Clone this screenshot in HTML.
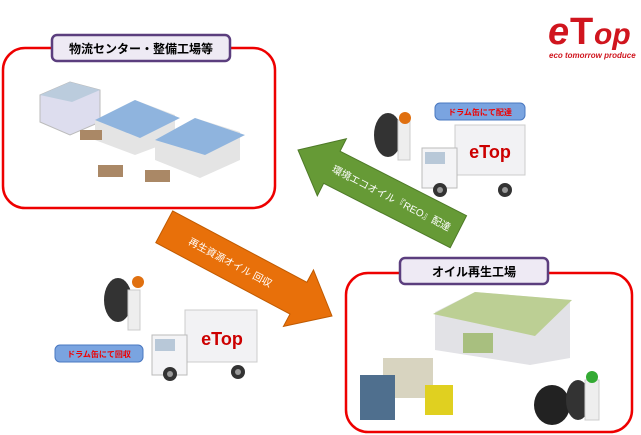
<!DOCTYPE html>
<html><head><meta charset="utf-8"><style>
html,body{margin:0;padding:0;background:#fff;width:641px;height:435px;overflow:hidden}
svg text{font-family:"Liberation Sans","Noto Sans CJK JP",sans-serif}
</style></head><body>
<svg width="641" height="435" viewBox="0 0 641 435" xmlns="http://www.w3.org/2000/svg">
<text x="548" y="44" font-size="38" font-weight="bold" font-style="italic" fill="#d0151e">e</text>
<text x="570" y="44" font-size="38" font-weight="bold" fill="#d0151e">T</text>
<text x="594" y="44" font-size="30" font-weight="bold" font-style="italic" fill="#d0151e">op</text>
<text x="549" y="58" font-size="8" font-weight="bold" font-style="italic" fill="#d0151e">eco tomorrow produce</text>

<rect x="3" y="48" width="272" height="160" rx="22" fill="#fff" stroke="#e00" stroke-width="2.5"/>
<rect x="52" y="35" width="178" height="26" rx="5" fill="#eeeaf4" stroke="#5b3e7e" stroke-width="2.5"/>
<text x="141" y="53" font-size="12" font-weight="bold" text-anchor="middle" fill="#000">物流センター・整備工場等</text>
<polygon points="40,95 70,82 100,90 100,122 70,135 40,122" fill="#dde" stroke="#bbb"/>
<polygon points="40,95 70,82 100,90 72,102" fill="#bcd"/>
<polygon points="95,120 135,100 175,115 175,140 135,155 95,140" fill="#e4e4e4"/>
<polygon points="95,120 135,100 180,118 140,138" fill="#8fb4de"/>
<polygon points="155,140 195,118 240,132 240,160 200,178 155,160" fill="#e4e4e4"/>
<polygon points="155,140 195,118 245,135 205,155" fill="#8fb4de"/>
<rect x="80" y="130" width="22" height="10" fill="#a86"/>
<rect x="98" y="165" width="25" height="12" fill="#a86"/>
<rect x="145" y="170" width="25" height="12" fill="#a86"/>

<rect x="346" y="273" width="286" height="159" rx="22" fill="#fff" stroke="#e00" stroke-width="2.5"/>
<rect x="400" y="258" width="148" height="26" rx="5" fill="#eeeaf4" stroke="#5b3e7e" stroke-width="2.5"/>
<text x="474" y="276" font-size="12" font-weight="bold" text-anchor="middle" fill="#000">オイル再生工場</text>
<polygon points="435,312 475,292 570,300 570,358 530,365 435,350" fill="#e2e2e6"/>
<polygon points="433,314 475,292 572,300 535,336" fill="#bccf94"/>
<rect x="463" y="333" width="30" height="20" fill="#a8bf7f"/>
<rect x="383" y="358" width="50" height="40" fill="#d8d4c0"/>
<rect x="360" y="375" width="35" height="45" fill="#4f6f8e"/>
<rect x="425" y="385" width="28" height="30" fill="#e0d020"/>
<ellipse cx="552" cy="405" rx="18" ry="20" fill="#222"/>
<ellipse cx="578" cy="400" rx="12" ry="20" fill="#333"/>
<rect x="585" y="380" width="14" height="40" fill="#eee" stroke="#ccc"/>
<circle cx="592" cy="377" r="6" fill="#3a3"/>

<g transform="translate(298,150) rotate(27)">
<polygon points="0,0 38,-32 38,-18 180,-18 180,18 38,18 38,32" fill="#669a36" stroke="#4e7a28"/>
<text x="105" y="4" font-size="10" fill="#fff" text-anchor="middle">環境エコオイル『REO』配達</text>
</g>
<g transform="translate(332,316) rotate(28)">
<polygon points="0,0 -38,-32 -38,-18 -190,-18 -190,18 -38,18 -38,32" fill="#e8700a" stroke="#c05a00"/>
<text x="-115" y="4" font-size="10" fill="#fff" text-anchor="middle">再生資源オイル 回収</text>
</g>

<rect x="455" y="125" width="70" height="50" fill="#f2f2f4" stroke="#ccc"/>
<text x="490" y="158" font-size="18" font-weight="bold" fill="#c00" text-anchor="middle">eTop</text>
<rect x="422" y="148" width="35" height="40" fill="#f4f4f6" stroke="#bbb"/>
<rect x="425" y="152" width="20" height="12" fill="#b8c8d8"/>
<circle cx="440" cy="190" r="7" fill="#333"/><circle cx="505" cy="190" r="7" fill="#333"/>
<circle cx="440" cy="190" r="3" fill="#999"/><circle cx="505" cy="190" r="3" fill="#999"/>
<ellipse cx="388" cy="135" rx="14" ry="22" fill="#333"/>
<rect x="398" y="120" width="12" height="40" fill="#eee" stroke="#ccc"/>
<circle cx="405" cy="118" r="6" fill="#e07010"/>
<rect x="435" y="103" width="90" height="17" rx="5" fill="#7aa4e0" stroke="#4a78c0"/>
<text x="480" y="115" font-size="8" font-weight="bold" fill="#e00" text-anchor="middle">ドラム缶にて配達</text>

<rect x="185" y="310" width="72" height="52" fill="#f2f2f4" stroke="#ccc"/>
<text x="222" y="345" font-size="18" font-weight="bold" fill="#c00" text-anchor="middle">eTop</text>
<rect x="152" y="335" width="35" height="40" fill="#f4f4f6" stroke="#bbb"/>
<rect x="155" y="339" width="20" height="12" fill="#b8c8d8"/>
<circle cx="170" cy="374" r="7" fill="#333"/><circle cx="238" cy="372" r="7" fill="#333"/>
<circle cx="170" cy="374" r="3" fill="#999"/><circle cx="238" cy="372" r="3" fill="#999"/>
<ellipse cx="118" cy="300" rx="14" ry="22" fill="#333"/>
<rect x="128" y="290" width="12" height="40" fill="#eee" stroke="#ccc"/>
<circle cx="138" cy="282" r="6" fill="#e07010"/>
<rect x="55" y="345" width="88" height="17" rx="5" fill="#7aa4e0" stroke="#4a78c0"/>
<text x="99" y="357" font-size="8" font-weight="bold" fill="#e00" text-anchor="middle">ドラム缶にて回収</text>
</svg>
</body></html>
